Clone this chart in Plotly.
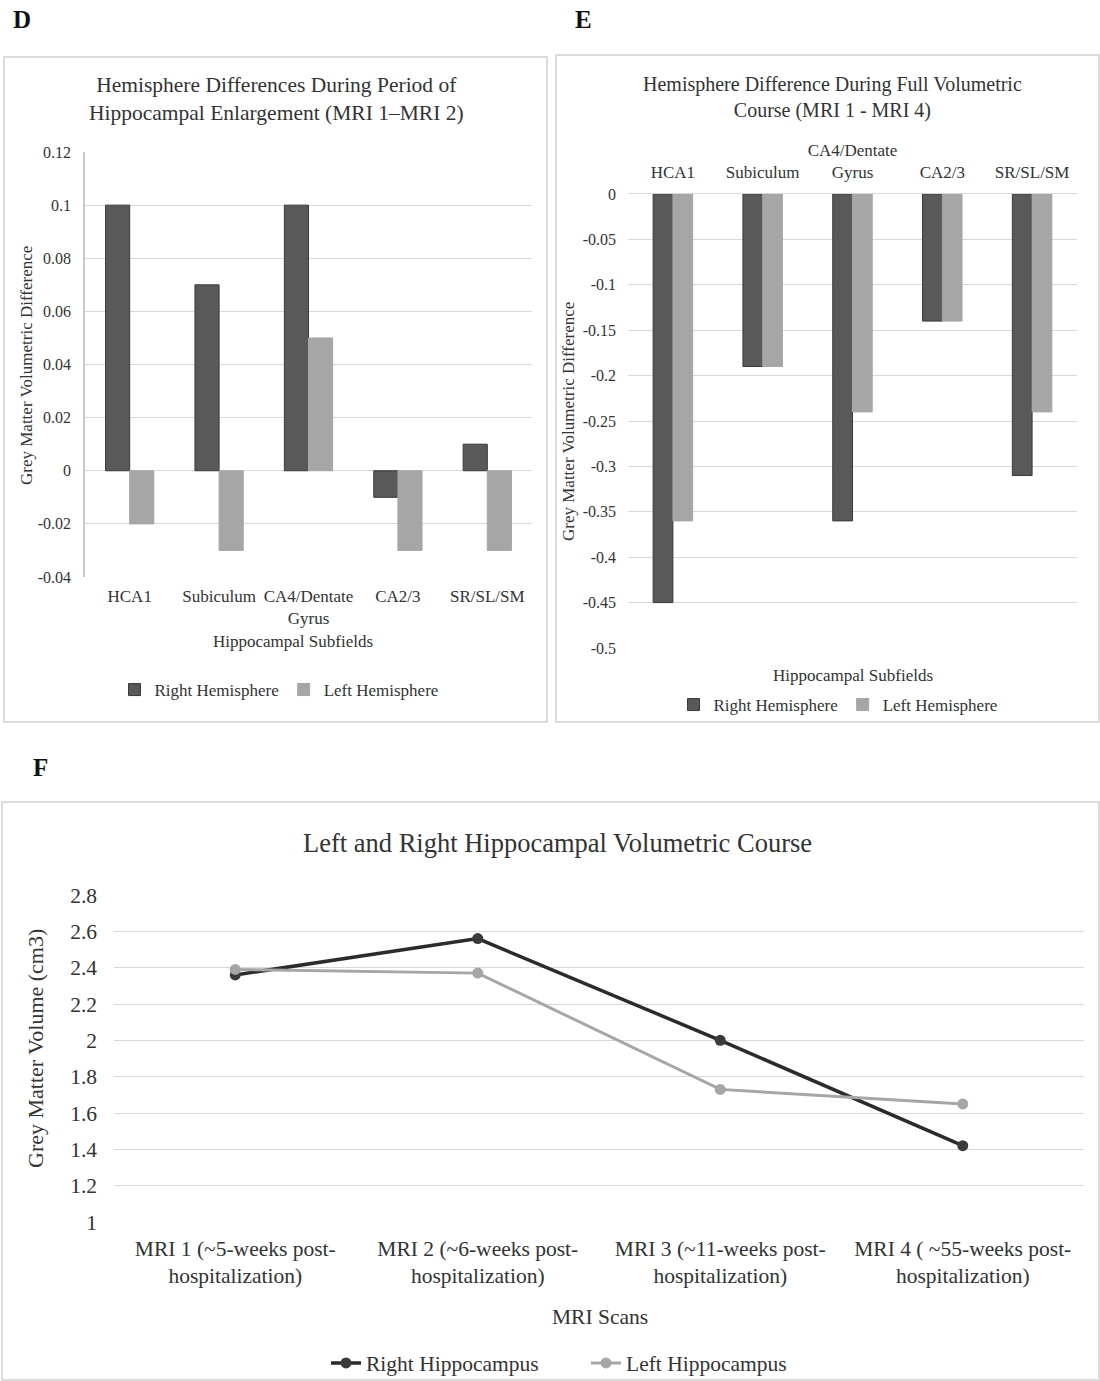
import plotly.graph_objects as go

W, H = 1100, 1381

# ---- Data ----
subfields = ["HCA1", "Subiculum", "CA4/Dentate<br>Gyrus", "CA2/3", "SR/SL/SM"]
d_right = [0.10, 0.07, 0.10, -0.01, 0.01]
d_left = [-0.02, -0.03, 0.05, -0.03, -0.03]
d_ticks = [-0.04, -0.02, 0, 0.02, 0.04, 0.06, 0.08, 0.1, 0.12]
d_ticklabels = ["-0.04", "-0.02", "0", "0.02", "0.04", "0.06", "0.08", "0.1", "0.12"]
e_right = [-0.45, -0.19, -0.36, -0.14, -0.31]
e_left = [-0.36, -0.19, -0.24, -0.14, -0.24]
e_ticks = [-0.5, -0.45, -0.4, -0.35, -0.3, -0.25, -0.2, -0.15, -0.1, -0.05, 0]
e_ticklabels = ["-0.5", "-0.45", "-0.4", "-0.35", "-0.3", "-0.25", "-0.2", "-0.15", "-0.1", "-0.05", "0"]
mri_labels = ["MRI 1 (~5-weeks post-<br>hospitalization)",
              "MRI 2 (~6-weeks post-<br>hospitalization)",
              "MRI 3 (~11-weeks post-<br>hospitalization)",
              "MRI 4 ( ~55-weeks post-<br>hospitalization)"]
f_right = [2.36, 2.56, 2.00, 1.42]
f_left = [2.39, 2.37, 1.73, 1.65]

FONT = "Liberation Serif"
TXT = "#333333"
DARK = "#595959"
LIGHT = "#a6a6a6"
GRID = "#d9d9d9"


def px(x):
    return x / W


def py(y):
    return 1 - y / H


fig = go.Figure()

# Panel D
fig.add_trace(go.Bar(x=subfields, y=d_right, name="Right Hemisphere",
                     marker=dict(color=DARK, line=dict(color="#3a3a3a", width=1)),
                     xaxis="x", yaxis="y", legend="legend"))
fig.add_trace(go.Bar(x=subfields, y=d_left, name="Left Hemisphere",
                     marker=dict(color=LIGHT, line=dict(color=LIGHT, width=1)),
                     xaxis="x", yaxis="y", legend="legend"))
# Panel E
fig.add_trace(go.Bar(x=subfields, y=e_right, name="Right Hemisphere",
                     marker=dict(color=DARK, line=dict(color="#3a3a3a", width=1)),
                     xaxis="x2", yaxis="y2", legend="legend2", width=0.22, offset=-0.22))
fig.add_trace(go.Bar(x=subfields, y=e_left, name="Left Hemisphere",
                     marker=dict(color=LIGHT, line=dict(color=LIGHT, width=1)),
                     xaxis="x2", yaxis="y2", legend="legend2", width=0.22, offset=0.0))
# Panel F
fig.add_trace(go.Scatter(x=mri_labels, y=f_right, name="Right Hippocampus", mode="lines+markers",
                         line=dict(color="#2b2b2b", width=3.5), marker=dict(size=11, color="#3a3a3a"),
                         xaxis="x3", yaxis="y3", legend="legend3"))
fig.add_trace(go.Scatter(x=mri_labels, y=f_left, name="Left Hippocampus", mode="lines+markers",
                         line=dict(color=LIGHT, width=3), marker=dict(size=11, color=LIGHT),
                         xaxis="x3", yaxis="y3", legend="legend3"))

tf17 = dict(family=FONT, size=17, color=TXT)
tf16 = dict(family=FONT, size=16, color=TXT)
tf21 = dict(family=FONT, size=21.5, color=TXT)

fig.update_layout(
    width=W, height=H, margin=dict(l=0, r=0, t=0, b=0, autoexpand=False),
    paper_bgcolor="white", plot_bgcolor="white",
    font=dict(family=FONT, color=TXT),
    barmode="group",
    bargap=0.46,
    xaxis=dict(domain=[px(85), px(532)], anchor="y", showgrid=False, showline=False, zeroline=False,
               ticks="", tickfont=tf17, automargin=False, ticklabelstandoff=7),
    yaxis=dict(domain=[py(577), py(152)], anchor="x", range=[-0.04, 0.12],
               tickmode="array", tickvals=d_ticks, ticktext=d_ticklabels,
               showgrid=True, gridcolor=GRID, showline=True, linecolor="#c8c8c8", linewidth=1.5,
               zeroline=False, ticks="", tickfont=tf16, automargin=False, ticklabelstandoff=9),
    xaxis2=dict(domain=[px(628), px(1077)], anchor="y2", side="top", showgrid=False,
                showline=True, linecolor=GRID, linewidth=1,
                zeroline=False, ticks="", tickfont=tf17, automargin=False, ticklabelstandoff=8),
    yaxis2=dict(domain=[py(648), py(194)], anchor="x2", range=[-0.5, 0],
                tickmode="array", tickvals=e_ticks, ticktext=e_ticklabels,
                showgrid=True, gridcolor=GRID, showline=False, zeroline=False, ticks="",
                tickfont=tf16, automargin=False, ticklabelstandoff=11),
    xaxis3=dict(domain=[px(114), px(1084)], anchor="y3", range=[-0.5, 3.5], showgrid=False,
                showline=False, zeroline=False, ticks="", tickfont=tf21, automargin=False,
                ticklabelstandoff=11),
    yaxis3=dict(domain=[py(1222), py(895)], anchor="x3", range=[1, 2.8], dtick=0.2,
                showgrid=True, gridcolor=GRID, showline=False, zeroline=False, ticks="", tickformat="~g",
                tickfont=tf21, automargin=False, ticklabelstandoff=16),
    legend=dict(orientation="h", x=px(279), y=py(690), xanchor="center", yanchor="middle",
                font=tf17, bgcolor="rgba(0,0,0,0)", itemwidth=30),
    legend2=dict(orientation="h", x=px(838), y=py(705), xanchor="center", yanchor="middle",
                 font=tf17, bgcolor="rgba(0,0,0,0)", itemwidth=30),
    legend3=dict(orientation="h", x=px(586), y=py(1363), xanchor="center", yanchor="middle",
                 font=tf21, bgcolor="rgba(0,0,0,0)", entrywidth=215, entrywidthmode="pixels"),
    showlegend=True,
)

# Panel borders
for (x0, y0, x1, y1) in [(4, 57, 547, 722), (556, 55, 1099, 722), (2, 802, 1099, 1380)]:
    fig.add_shape(type="rect", xref="paper", yref="paper", x0=px(x0), x1=px(x1), y0=py(y1), y1=py(y0),
                  line=dict(color="#d0d0d0", width=1.5), fillcolor="rgba(0,0,0,0)")


def add_text(x, y, text, size, rot=0, bold=False, color=TXT):
    fig.add_annotation(x=px(x), y=py(y), xref="paper", yref="paper",
                       text=("<b>%s</b>" % text) if bold else text,
                       showarrow=False, textangle=rot, xanchor="center", yanchor="middle",
                       font=dict(family=FONT, size=size, color=color))


add_text(22, 19, "D", 25, bold=True, color="#111111")
add_text(583, 19, "E", 25, bold=True, color="#111111")
add_text(40, 767, "F", 25, bold=True, color="#111111")

add_text(276, 99, "Hemisphere Differences During Period of<br>Hippocampal Enlargement (MRI 1\u2013MRI 2)", 21.5)
add_text(293, 642, "Hippocampal Subfields", 17)
add_text(27, 366, "Grey Matter Volumetric Difference", 17, rot=-90)

add_text(832, 97, "Hemisphere Difference During Full Volumetric<br>Course (MRI 1 - MRI 4)", 20)
add_text(853, 675, "Hippocampal Subfields", 17)
add_text(569, 421, "Grey Matter Volumetric Difference", 17, rot=-90)

add_text(557, 843, "Left and Right Hippocampal Volumetric Course", 26.5)
add_text(600, 1317, "MRI Scans", 21.5)
add_text(35, 1049, "Grey Matter Volume (cm3)", 22, rot=-90)

fig.write_html("out.html", config={"displayModeBar": False},
               post_script="document.body.style.margin='0px';document.body.style.overflow='hidden';")
